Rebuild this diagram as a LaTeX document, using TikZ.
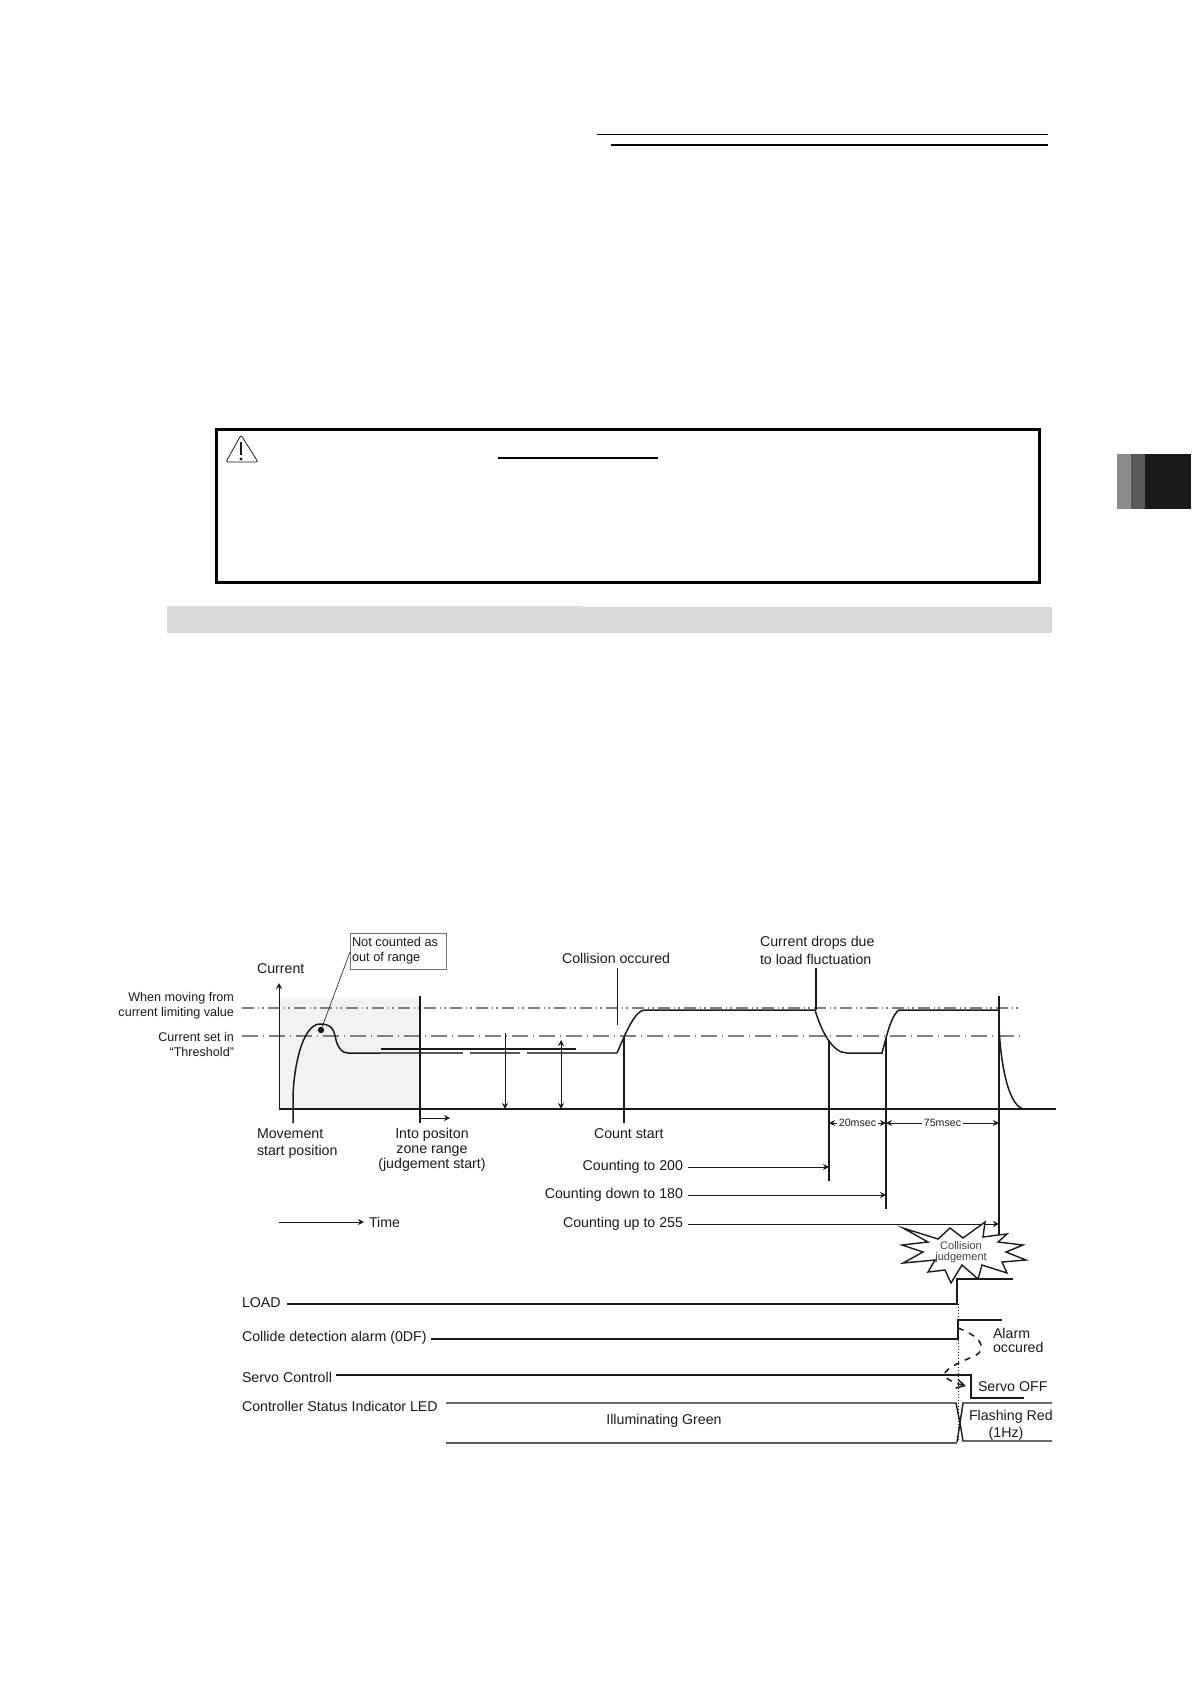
\documentclass[tikz,border=0pt]{standalone}
\usepackage{fontspec}
\setmainfont{Liberation Sans}
\usetikzlibrary{arrows.meta}
\definecolor{inkk}{HTML}{1A1A1A}
\tikzset{
  lbl/.style={inner sep=0pt, outer sep=0pt, text=inkk, font=\fontsize{7.1}{8.7}\selectfont},
  cnt/.style={lbl, outer sep=2.5pt},
  lblsm/.style={inner sep=0pt, outer sep=0pt, text=inkk, font=\fontsize{6.3}{7.4}\selectfont},
  msec/.style={fill=white, inner sep=1pt, text=inkk, font=\fontsize{5.3}{6}\selectfont},
  sig/.style={line width=.7pt, inkk},
  sigg/.style={line width=1pt, black!65},
  wave/.style={line width=.75pt, inkk},
  fine/.style={line width=.45pt, inkk},
  tick/.style={line width=.75pt, inkk},
  arr/.style={line width=.45pt, inkk, -{Stealth[length=3pt, width=3pt]}},
  darr/.style={line width=.45pt, inkk, {Stealth[length=3pt, width=3pt]}-{Stealth[length=3pt, width=3pt]}},
  limitline/.style={line width=.6pt, gray, dash pattern=on 6pt off 2pt on .6pt off 1.6pt on .6pt off 2.2pt},
  threshline/.style={line width=.55pt, gray, dash pattern=on 8pt off 2.5pt on .5pt off 2.5pt}
}
\begin{document}
\begin{tikzpicture}[x=.5pt, y=-.5pt]
\useasboundingbox (0,0) rectangle (1191,1684);
\draw[line width=.5pt, black](597,135) -- (1048,135);
\draw[line width=1.1pt, black](611,145) -- (1048,145);
\fill[black!45](1117,454) rectangle (1131,509);
\fill[black!65](1131,454) rectangle (1145,509);
\fill[inkk](1145,454) rectangle (1191,509);
\draw[line width=1.5pt, black](216,430) rectangle (1039,582);
\draw[line width=.4pt, inkk, rounded corners=1pt](241,435) -- (258,462) -- (226,462) -- cycle;
\draw[line width=.9pt, inkk](241,442) -- (241,455);
\fill[inkk](241,459) circle (.8pt);
\draw[line width=.6pt, black](498,458) -- (658,458);
\fill[black!15](167,607) rectangle (1052,633);
\fill[black!13](167,606) rectangle (583,608);
\fill[black!5](279,998) rectangle (420,1109);
\coordinate (limL) at (242,1008);
\coordinate (limR) at (1021,1008);
\coordinate (thrL) at (242,1036);
\coordinate (thrR) at (1021,1036);
\draw[limitline](limL) -- (limR);
\draw[threshline](thrL) -- (thrR);
\coordinate (org) at (279,1109);
\coordinate (ytop) at (279,983);
\coordinate (xend) at (1056,1109);
\draw[arr](org) -- (ytop);
\draw[tick](org) -- (xend);
\node[lbl, anchor=west] (curlbl) at (257,969){Current};
\node[lblsm, anchor=east, align=right] (limlbl) at (234,1005.5){When moving from\\current limiting value};
\node[lblsm, anchor=east, align=right] (thrlbl) at (234,1044.5){Current set in\\“Threshold”};
\draw[wave](293,1123) -- (293,1100) .. controls (293,1070) and (302,1024) .. (320,1024) .. controls (332,1024) and (334,1030) .. (336,1040) .. controls (338,1048) and (342,1053) .. (348,1053) -- (380,1053);
\draw[sigg](380,1053) -- (462.5,1053);
\draw[sigg](470,1053) -- (520,1053);
\draw[sigg](527,1053) -- (617,1053);
\draw[fine, line width=.6pt](381,1049) -- (576,1049);
\draw[wave](617,1053) -- (624,1037) .. controls (630,1024) and (637,1010) .. (645,1010) -- (815,1010) .. controls (821,1030) and (832,1053) .. (847,1053) -- (882,1053) -- (886,1038) .. controls (889,1027) and (893,1014) .. (899,1010) -- (999,1010);
\draw[wave](999,1027) .. controls (1001,1070) and (1010,1109) .. (1025,1109);
\node[circle, fill=inkk, inner sep=0pt, minimum size=3.2pt] (peakdot) at (321,1030){};
\node[draw=black!55, line width=.5pt, minimum width=48pt, minimum height=18pt, inner sep=0pt] (notebox) at (398,951){};
\node[lblsm, anchor=west, align=left, font=\fontsize{6.4}{7.5}\selectfont] (notelbl) at (352,951){Not counted as\\out of range};
\coordinate (noteleg) at (350,952);
\draw[fine, line width=.3pt](noteleg) -- (peakdot);
\coordinate (zoneT) at (420,996);
\coordinate (zoneB) at (420,1123);
\coordinate (zoneR) at (450,1118);
\coordinate (zoneA) at (420,1118);
\draw[tick, line width=.9pt](zoneT) -- (zoneB);
\draw[arr](zoneA) -- (zoneR);
\coordinate (aT) at (505,1033);
\coordinate (aB) at (505,1109);
\coordinate (bT) at (561,1040);
\coordinate (bB) at (561,1109);
\draw[arr](aT) -- (aB);
\draw[darr](bT) -- (bB);
\node[lbl, anchor=west] (collbl) at (562,958){Collision occured};
\coordinate (colT) at (617,968);
\coordinate (colB) at (617,1025);
\draw[tick, line width=.5pt](colT) -- (colB);
\coordinate (cntT) at (624,1037);
\coordinate (cntB) at (624,1123);
\draw[tick](cntT) -- (cntB);
\node[lbl, anchor=north west, align=left] (droplbl) at (760,936.5){Current drops due\\to load fluctuation};
\coordinate (dropT) at (816,968);
\coordinate (dropB) at (816,1010);
\draw[tick](dropT) -- (dropB);
\coordinate (t200T) at (829,1040);
\coordinate (t200B) at (829,1181);
\coordinate (t180T) at (886,1038);
\coordinate (t180B) at (886,1209);
\coordinate (t255T) at (999,996);
\coordinate (t255B) at (999,1235);
\draw[tick](t200T) -- (t200B);
\draw[tick, line width=.9pt](t180T) -- (t180B);
\draw[tick](t255T) -- (t255B);
\coordinate (m20L) at (829,1123);
\coordinate (m20R) at (886,1123);
\coordinate (m75R) at (999,1123);
\draw[darr](m20L) -- node[msec] (m20lbl) {20msec} (m20R);
\draw[darr](m20R) -- node[msec] (m75lbl) {75msec} (m75R);
\node[lbl, anchor=north west, align=left] (movlbl) at (257,1128.5){Movement\\start position};
\node[lbl, anchor=north, align=center, font=\fontsize{7.1}{7.4}\selectfont] (intolbl) at (432,1128.5){Into positon\\zone range\\(judgement start)};
\node[lbl, anchor=west] (cntlbl) at (594,1134){Count start};
\node[cnt, anchor=east] (c200) at (688,1167){Counting to 200};
\node[cnt, anchor=east] (c180) at (688,1195){Counting down to 180};
\node[cnt, anchor=east] (c255) at (688,1224){Counting up to 255};
\coordinate (h200) at (829,1167);
\coordinate (h180) at (886,1195);
\coordinate (h255) at (999,1224);
\draw[arr](c200) -- (h200);
\draw[arr](c180) -- (h180);
\draw[arr](c255) -- (h255);
\coordinate (timeL) at (279,1222);
\node[cnt, anchor=west] (timelbl) at (364,1222){Time};
\draw[arr](timeL) -- (timelbl);
\draw[line width=.7pt, inkk, fill=white](903,1228) -- (938,1239) -- (950,1228) -- (963,1238) -- (985,1222) -- (983,1237) -- (998,1235) -- (1007,1234) -- (998,1242) -- (1023,1245) -- (1006,1252) -- (1026,1260) -- (1002,1262) -- (1007,1273) -- (982,1265) -- (978,1279) -- (962,1265) -- (951,1283) -- (945,1270) -- (928,1272) -- (935,1260) -- (903,1263) -- (923,1252) -- (902,1245) -- (928,1242) -- cycle;
\node[lbl, align=center, text=black!75, font=\fontsize{5.5}{5.4}\selectfont] (judglbl) at (961,1252){Collision\\judgement};
\coordinate (dotT) at (958,1304);
\coordinate (dotB) at (958,1442);
\draw[line width=.5pt, inkk, densely dotted](dotT) -- (dotB);
\node[lbl, anchor=west] (loadlbl) at (242,1303){LOAD};
\coordinate (loadA) at (287,1304);
\coordinate (loadB) at (957,1279);
\coordinate (loadC) at (1013,1279);
\draw[sig](loadA) -| (loadB) -- (loadC);
\node[lbl, anchor=west] (alarmlbl) at (242,1338){Collide detection alarm (0DF)};
\coordinate (alarmA) at (431,1339);
\coordinate (alarmB) at (958,1320);
\coordinate (alarmC) at (1002,1320);
\draw[sig](alarmA) -| (alarmB) -- (alarmC);
\node[lbl, anchor=west] (servolbl) at (242,1377){Servo Controll};
\coordinate (servoA) at (336,1375);
\coordinate (servoB) at (971,1398);
\coordinate (servoC) at (1024,1398);
\draw[sig](servoA) -| (servoB) -- (servoC);
\node[lbl, anchor=west] (ledlbl) at (242,1406){Controller Status Indicator LED};
\draw[sig](446,1403) -- (956,1403) -- (960,1423) -- (957,1442);
\draw[sigg](446,1443) -- (957,1443);
\draw[sig](1052,1403) -- (963,1403) -- (960,1423) -- (963,1441) -- (1052,1441);
\node[lbl, anchor=center] (greenlbl) at (664,1421){Illuminating Green};
\node[lbl, anchor=west] (redlbl) at (969,1417){Flashing Red};
\node[lbl, anchor=center] (hzlbl) at (1006,1434){(1Hz)};
\node[lbl, anchor=west] (offlbl) at (978,1387){Servo OFF};
\node[lbl, anchor=north west, align=left, font=\fontsize{7.1}{7.2}\selectfont] (occlbl) at (993,1328){Alarm\\occured};
\coordinate (dashS) at (958,1328);
\coordinate (dashE) at (966,1386);
\draw[line width=.75pt, inkk, dashed, -{Straight Barb[length=4pt, width=4.5pt]}](dashS) .. controls (985,1338) and (988,1352) .. (970,1358) .. controls (950,1366) and (938,1374) .. (948,1379) .. controls (952,1382) and (958,1384) .. (dashE);
\end{tikzpicture}
\end{document}
